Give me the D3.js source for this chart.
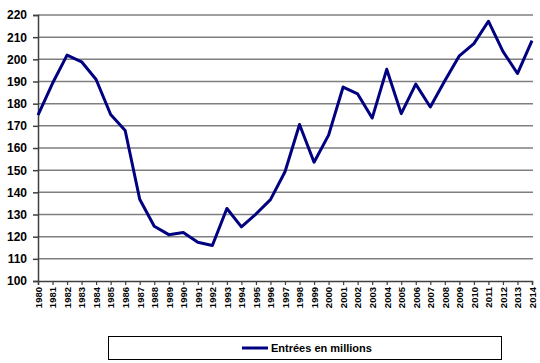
<!DOCTYPE html>
<html><head><meta charset="utf-8">
<script src="https://cdn.jsdelivr.net/npm/d3@7"></script>
<style>body{margin:0;background:#fff}svg{display:block}text{font-family:Arial,"Liberation Sans",sans-serif;font-weight:bold;fill:#000}</style>
</head><body><svg id="c" width="540" height="363"></svg>
<script>
const years = [1980,1981,1982,1983,1984,1985,1986,1987,1988,1989,1990,1991,1992,1993,1994,1995,1996,1997,1998,1999,2000,2001,2002,2003,2004,2005,2006,2007,2008,2009,2010,2011,2012,2013,2014];
const entries = [174.8,189.2,201.9,198.9,190.9,175.1,167.9,136.9,124.7,120.9,121.9,117.5,116.0,132.7,124.4,130.2,136.7,149.3,170.6,153.6,165.8,187.5,184.4,173.5,195.5,175.5,188.8,178.5,190.3,201.6,207.1,217.2,203.6,193.6,208.4];
const yTicks = [100,110,120,130,140,150,160,170,180,190,200,210,220];
const seriesName = "Entrées en millions";

const svg = d3.select("#c");
const x = d3.scalePoint().domain(years).range([38,532]);
const y = d3.scaleLinear().domain([100,220]).range([281,15]);

// gridlines
svg.append("g").selectAll("line").data(yTicks.filter(d=>d>100)).join("line")
  .attr("x1",38).attr("x2",533).attr("y1",d=>y(d)).attr("y2",d=>y(d))
  .attr("stroke","#7f7f7f").attr("stroke-width",1.5);

// y axis
const ya = svg.append("g").attr("transform","translate(38,0)")
  .call(d3.axisLeft(y).tickValues(yTicks).tickSize(5).tickPadding(6));
ya.select(".domain").attr("stroke","#404040").attr("stroke-width",1.5);
ya.selectAll(".tick line").attr("stroke","#404040").attr("stroke-width",1.5);
ya.selectAll("text").style("font-size","12px").style("font-family","Arial, 'Liberation Sans', sans-serif").style("font-weight","bold").attr("fill","#000");

// x axis
const xa = svg.append("g").attr("transform","translate(0,281)")
  .call(d3.axisBottom(x).tickSize(4).tickPadding(3));
xa.select(".domain").attr("stroke","#404040").attr("stroke-width",1.5);
xa.selectAll(".tick line").attr("stroke","#404040").attr("stroke-width",1.2);
xa.selectAll("text").style("font-size","9.5px").style("font-family","Arial, 'Liberation Sans', sans-serif").style("font-weight","bold").attr("fill","#000")
  .attr("transform","rotate(-90)").attr("text-anchor","end").attr("x",-6).attr("y",0).attr("dy","0.35em");

// line
svg.append("path").datum(years.map((yr,i)=>[yr,entries[i]]))
  .attr("fill","none").attr("stroke","#000080").attr("stroke-width",3).attr("stroke-linejoin","round")
  .attr("d",d3.line().x(d=>x(d[0])).y(d=>y(d[1])));

// legend
svg.append("rect").attr("x",108.5).attr("y",336.5).attr("width",393).attr("height",23)
  .attr("fill","#fff").attr("stroke","#000").attr("stroke-width",1);
svg.append("line").attr("x1",242).attr("x2",268).attr("y1",348).attr("y2",348)
  .attr("stroke","#000080").attr("stroke-width",3);
svg.append("text").attr("x",271).attr("y",352).style("font-size","11px").text(seriesName);
</script></body></html>
